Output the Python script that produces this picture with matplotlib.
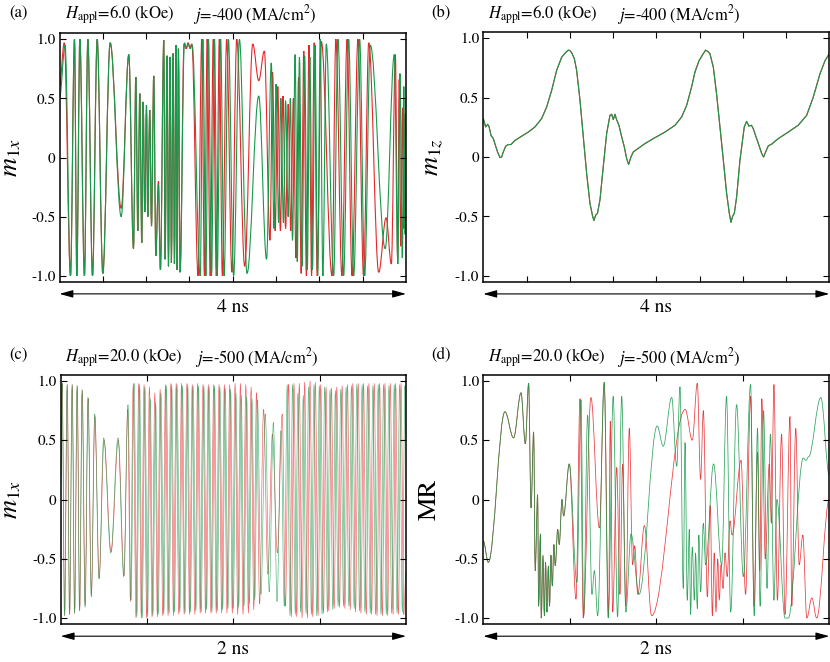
import numpy as np
import matplotlib
matplotlib.use('Agg')
import matplotlib.pyplot as plt
from matplotlib.path import Path
from matplotlib.patches import PathPatch

plt.rcParams['font.family'] = 'STIXGeneral'
plt.rcParams['mathtext.fontset'] = 'stix'

RED = '#e8262a'
GREEN = '#179a4b'

# y ticks shared by all panels
yticks = [-1.0, -0.5, 0.0, 0.5, 1.0]
ytick_labels = ['-1.0', '-0.5', '0', '0.5', '1.0']

# (a) m1x, H=6 kOe : extrema (t [ns], value)
a_red = [(0, 0.6), (0.055, 0.97), (0.127, -1.0), (0.173, 1.0), (0.2, -1.0), (0.235, 1.0),
         (0.288, -1.0), (0.327, 1.0), (0.381, -1.0), (0.435, 1.0), (0.5, -0.98), (0.585, 0.97),
         (0.712, -0.43), (0.8, 0.87), (0.854, -0.77), (0.881, 0.68), (0.904, -0.62), (0.927, 0.54),
         (0.95, -0.72), (0.965, 0.47), (0.985, -0.46), (1.004, 0.44), (1.019, -0.5), (1.042, 0.40),
         (1.062, -0.58), (1.088, 0.69), (1.112, -0.83), (1.142, -0.2), (1.165, -0.95), (1.204, 0.99),
         (1.219, -0.86), (1.242, 0.86), (1.258, -0.92), (1.277, 0.85), (1.292, -0.89), (1.312, 0.88),
         (1.327, -0.9), (1.346, 0.95), (1.358, -0.95), (1.373, 0.92), (1.392, -0.97), (1.438, 0.96),
         (1.462, 0.92), (1.485, 0.97), (1.505, 0.93), (1.528, 0.96), (1.6, -1.0), (1.642, 1.0),
         (1.673, -1.0), (1.705, 1.0), (1.74, -1.0), (1.775, 1.0), (1.81, -1.0), (1.845, 1.0),
         (1.88, -1.0), (1.93, 1.0), (1.99, -0.97), (2.046, 1.0), (2.138, -0.92), (2.231, 0.96),
         (2.3, 0.65), (2.365, 0.9), (2.43, -0.7), (2.46, 0.72), (2.49, -0.62), (2.52, 0.6),
         (2.55, -0.62), (2.58, 0.52), (2.61, -0.6), (2.64, 0.45), (2.67, -0.62), (2.70, 0.5),
         (2.73, -0.85), (2.76, 0.68), (2.79, -0.98), (2.82, 0.9), (2.85, -1.0), (2.88, 0.95),
         (2.91, -1.0), (2.94, 0.97), (2.975, -1.0), (3.023, 0.98), (3.146, -1.0), (3.19, 1.0),
         (3.26, -1.0), (3.32, 1.0), (3.377, -1.0), (3.446, 1.0), (3.51, -1.0), (3.57, 0.97),
         (3.685, -0.97), (3.77, -0.51), (3.831, -0.9), (3.877, 0.87), (3.904, -0.85), (3.922, 0.66),
         (3.94, -0.75), (3.96, 0.42), (3.975, -0.6), (3.99, 0.37), (4.0, -0.55)]
a_green = [(0, 0.5), (0.065, 0.95), (0.127, -1.0), (0.173, 1.0), (0.2, -1.0), (0.235, 1.0),
           (0.288, -1.0), (0.327, 1.0), (0.381, -1.0), (0.435, 1.0), (0.5, -0.98), (0.585, 0.97),
           (0.712, -0.5), (0.8, 0.87), (0.854, -0.77), (0.881, 0.68), (0.904, -0.62), (0.927, 0.54),
           (0.95, -0.72), (0.965, 0.47), (0.985, -0.46), (1.004, 0.44), (1.019, -0.5), (1.042, 0.40),
           (1.062, -0.58), (1.088, 0.69), (1.112, -0.83), (1.142, -0.23), (1.165, -0.95), (1.204, 0.99),
           (1.219, -0.86), (1.242, 0.86), (1.258, -0.92), (1.277, 0.85), (1.292, -0.89), (1.312, 0.88),
           (1.327, -0.9), (1.346, 0.95), (1.358, -0.95), (1.373, 0.92), (1.392, -0.97), (1.442, 0.97),
           (1.465, 0.93), (1.488, 0.96), (1.508, 0.92), (1.531, 0.95), (1.625, -1.0), (1.655, 1.0),
           (1.69, -1.0), (1.72, 1.0), (1.755, -1.0), (1.79, 1.0), (1.82, -1.0), (1.86, 1.0),
           (1.9, -1.0), (1.95, 1.0), (2.01, -1.0), (2.077, 1.0), (2.165, -0.98), (2.3, 0.52),
           (2.39, -0.86), (2.445, 0.8), (2.475, -0.6), (2.5, 0.62), (2.53, -0.55), (2.555, 0.5),
           (2.585, -0.55), (2.61, 0.48), (2.64, -0.5), (2.665, 0.5), (2.69, -0.7), (2.72, 0.87),
           (2.745, -0.88), (2.77, 0.85), (2.8, -0.92), (2.83, 0.86), (2.86, -0.95), (2.89, 0.85),
           (2.92, -0.95), (2.95, 0.95), (2.98, -1.0), (3.01, 1.0), (3.04, -1.0), (3.08, 0.96),
           (3.165, -1.0), (3.215, 1.0), (3.28, -1.0), (3.338, 1.0), (3.396, -1.0), (3.465, 1.0),
           (3.523, -1.0), (3.588, 0.95), (3.76, -0.77), (3.865, 0.87), (3.906, -0.9), (3.93, 0.71),
           (3.958, -0.85), (3.975, 0.6), (3.99, -0.65), (4.0, 0.5)]

# (b) m1z, H=6 kOe
b_t = [0, 0.027, 0.05, 0.065, 0.09, 0.116, 0.135, 0.166, 0.193, 0.212, 0.23, 0.258, 0.289,
       0.32, 0.366, 0.443, 0.52, 0.597, 0.674, 0.732, 0.79, 0.848, 0.906, 0.952, 0.983, 1.0,
       1.02, 1.052, 1.079, 1.118, 1.156, 1.195, 1.233, 1.264, 1.279, 1.299, 1.32, 1.349, 1.387,
       1.426, 1.464, 1.484, 1.503, 1.522, 1.541, 1.568, 1.6, 1.63, 1.657, 1.68, 1.707, 1.734,
       1.773, 1.869, 1.985, 2.1, 2.216, 2.293, 2.351, 2.408, 2.447, 2.493, 2.543, 2.57, 2.593,
       2.62, 2.659, 2.697, 2.736, 2.775, 2.813, 2.844, 2.863, 2.882, 2.902, 2.929, 2.967, 3.017,
       3.044, 3.071, 3.1, 3.12, 3.148, 3.18, 3.218, 3.24, 3.264, 3.295, 3.333, 3.41, 3.526,
       3.64, 3.738, 3.815, 3.892, 3.95, 4.0]
b_v = [0.323, 0.253, 0.275, 0.26, 0.18, 0.155, 0.11, 0.04, -0.005, 0.0, 0.04, 0.09, 0.105,
       0.105, 0.14, 0.175, 0.21, 0.253, 0.323, 0.42, 0.56, 0.73, 0.84, 0.88, 0.90, 0.896,
       0.88, 0.83, 0.73, 0.477, 0.17, -0.14, -0.39, -0.50, -0.535, -0.49, -0.474, -0.36, -0.08,
       0.197, 0.35, 0.36, 0.315, 0.36, 0.315, 0.267, 0.17, 0.085, -0.013, -0.063, 0.0, 0.043,
       0.063, 0.113, 0.163, 0.21, 0.267, 0.337, 0.435, 0.59, 0.715, 0.81, 0.87, 0.90, 0.89,
       0.87, 0.757, 0.53, 0.253, -0.027, -0.306, -0.474, -0.55, -0.50, -0.474, -0.334, -0.027, 0.253,
       0.30, 0.26, 0.267, 0.24, 0.18, 0.113, 0.03, 0.0, 0.043, 0.094, 0.108, 0.155, 0.21,
       0.267, 0.35, 0.505, 0.70, 0.81, 0.87]

# (c) m1x, H=20 kOe : extrema
c_red = [(0.0, 0.1), (0.009, 0.98), (0.023, -0.98), (0.038, 0.97), (0.052, -0.97), (0.067, 0.97),
         (0.081, -0.96), (0.096, 0.96), (0.11, -0.94), (0.125, 0.92), (0.142, -0.9), (0.159, 0.85),
         (0.178, -0.8), (0.198, 0.7), (0.223, -0.66), (0.251, 0.5), (0.292, -0.44), (0.334, 0.5),
         (0.367, -0.64), (0.388, 0.76), (0.404, -0.86), (0.42, 0.97),
         (0.436, -1.0), (0.452, 0.98), (0.467, -1.0), (0.483, 0.97), (0.498, -1.0), (0.514, 0.95),
         (0.529, -0.99), (0.545, 0.9), (0.56, -0.99), (0.576, 0.93), (0.591, -0.98), (0.607, 0.97),
         (0.622, -0.98), (0.638, 0.98), (0.653, -0.98), (0.669, 0.98), (0.684, -0.97), (0.7, 0.98),
         (0.715, -0.97), (0.731, 0.98), (0.746, -0.97), (0.762, 0.97), (0.777, -0.97), (0.793, 0.98),
         (0.808, -0.96), (0.824, 0.97), (0.839, -0.96), (0.855, 0.97), (0.87, -0.96), (0.886, 0.97),
         (0.901, -0.96), (0.917, 0.97), (0.932, -0.96), (0.948, 0.97), (0.963, -0.96), (0.979, 0.97),
         (0.994, -0.96), (1.01, 0.98), (1.025, -0.97), (1.041, 0.98), (1.056, -0.97), (1.072, 0.97),
         (1.087, -0.96), (1.103, 0.95), (1.118, -0.93), (1.134, 0.9),
         (1.152, -0.88), (1.175, 0.76), (1.2, -0.63), (1.226, 0.55), (1.255, -0.45), (1.283, 0.72),
         (1.302, -0.9), (1.32, 0.97),
         (1.336, -0.99), (1.351, 0.98), (1.367, -0.99), (1.382, 0.98), (1.398, -1.0), (1.413, 0.99),
         (1.429, -1.0), (1.444, 1.0), (1.46, -0.99), (1.475, 0.99), (1.491, -0.98), (1.506, 0.97),
         (1.522, -0.96), (1.537, 0.95), (1.553, -0.94), (1.568, 0.94), (1.584, -0.92), (1.599, 0.95),
         (1.615, -0.91), (1.63, 0.96), (1.646, -0.92), (1.661, 0.97), (1.677, -0.93), (1.692, 0.98),
         (1.708, -0.95), (1.723, 0.98), (1.739, -0.96), (1.754, 0.98), (1.77, -0.97), (1.785, 0.98),
         (1.801, -0.97), (1.816, 0.98), (1.832, -0.98), (1.847, 0.98), (1.863, -0.98), (1.878, 0.98),
         (1.894, -0.98), (1.909, 0.98), (1.925, -0.97), (1.94, 0.98), (1.956, -0.97), (1.971, 0.98),
         (1.987, -0.97), (2.0, -0.6)]
c_green = [(0.0, 0.2), (0.008, 0.98), (0.022, -0.98), (0.037, 0.97), (0.051, -0.97), (0.066, 0.97),
           (0.08, -0.96), (0.095, 0.96), (0.109, -0.94), (0.124, 0.93), (0.141, -0.91), (0.158, 0.86),
           (0.177, -0.82), (0.197, 0.72), (0.222, -0.67), (0.249, 0.52), (0.29, -0.45), (0.332, 0.52),
           (0.365, -0.65), (0.39, 0.8), (0.407, -0.85), (0.425, 0.98),
           (0.441, -0.99), (0.457, 0.97), (0.472, -1.0), (0.488, 0.95), (0.503, -0.99), (0.519, 0.85),
           (0.534, -0.98), (0.55, 0.82), (0.565, -0.97), (0.581, 0.9), (0.597, -0.97), (0.612, 0.96),
           (0.628, -0.96), (0.643, 0.97), (0.659, -0.95), (0.674, 0.97), (0.69, -0.95), (0.705, 0.96),
           (0.72, -0.96), (0.736, 0.97), (0.751, -0.95), (0.767, 0.96), (0.783, -0.94), (0.798, 0.96),
           (0.814, -0.95), (0.829, 0.96), (0.845, -0.93), (0.86, 0.95), (0.876, -0.95), (0.891, 0.96),
           (0.907, -0.94), (0.922, 0.95), (0.938, -0.93), (0.953, 0.94), (0.969, -0.92), (0.984, 0.93),
           (1.0, -0.92), (1.015, 0.9), (1.031, -0.91), (1.046, 0.88), (1.062, -0.9), (1.077, 0.87),
           (1.093, -0.88), (1.108, 0.85), (1.124, -0.85), (1.14, 0.84),
           (1.16, -0.8), (1.185, 0.72), (1.208, -0.78), (1.232, 0.65), (1.253, -0.86), (1.276, 0.58),
           (1.295, -0.9), (1.312, 0.97),
           (1.328, -0.98), (1.343, 0.97), (1.359, -0.97), (1.374, 0.9), (1.39, -0.95), (1.405, 0.88),
           (1.421, -0.96), (1.436, 0.95), (1.452, -0.97), (1.467, 0.97), (1.483, -0.98), (1.498, 0.96),
           (1.514, -0.97), (1.529, 0.95), (1.545, -0.95), (1.56, 0.93), (1.576, -0.93), (1.591, 0.92),
           (1.607, -0.9), (1.622, 0.93), (1.638, -0.9), (1.653, 0.95), (1.669, -0.9), (1.684, 0.96),
           (1.7, -0.92), (1.715, 0.97), (1.731, -0.94), (1.746, 0.97), (1.762, -0.95), (1.777, 0.96),
           (1.793, -0.96), (1.808, 0.96), (1.824, -0.97), (1.839, 0.97), (1.855, -0.97), (1.87, 0.97),
           (1.886, -0.97), (1.901, 0.96), (1.917, -0.96), (1.932, 0.97), (1.948, -0.96), (1.963, 0.97),
           (1.979, -0.95), (1.994, 0.96), (2.0, 0.5)]

# (d) MR, H=20 kOe : extrema
d_start = [(0.0, -0.35), (0.029, -0.53), (0.125, 0.74), (0.175, 0.52), (0.218, 0.9), (0.243, 0.47),
           (0.262, 0.98), (0.276, -0.07), (0.291, 0.57), (0.3, -0.6), (0.314, 0.04), (0.32, -0.9),
           (0.33, -0.29), (0.335, -1.0), (0.345, -0.47), (0.353, -0.98), (0.36, -0.53), (0.368, -0.95),
           (0.376, -0.56), (0.383, -0.9), (0.391, -0.47), (0.399, -0.73), (0.408, -0.38), (0.416, -0.56),
           (0.43, -0.25), (0.439, -0.38), (0.455, 0.0), (0.464, -0.14), (0.497, 0.3)]
d_red_rest = [(0.536, -0.84), (0.559, 0.85), (0.578, -1.0), (0.622, 0.86), (0.671, -0.24), (0.699, 0.98),
              (0.724, -0.98), (0.734, 0.66), (0.748, -0.95), (0.771, 0.27), (0.79, -0.8), (0.805, 0.3),
              (0.824, -0.9), (0.844, 0.6), (0.863, -0.55), (0.875, -0.39), (0.893, -0.8), (0.931, -0.22),
              (0.973, -0.98), (1.167, 0.76), (1.208, 0.5), (1.237, 0.98), (1.256, 0.17), (1.272, 0.75),
              (1.295, -0.82), (1.312, -0.05), (1.324, -0.98), (1.335, -0.45), (1.345, -0.95), (1.355, -0.5),
              (1.364, -0.85), (1.374, -0.55), (1.386, -0.75), (1.397, -0.45), (1.41, -0.65), (1.426, -0.18),
              (1.438, -0.3), (1.49, 0.33), (1.516, -0.8), (1.545, 0.87), (1.565, -0.9), (1.585, 0.4),
              (1.598, -0.6), (1.61, 0.85), (1.63, -0.5), (1.653, 0.3), (1.665, -0.2), (1.68, 0.97),
              (1.7, -0.85), (1.724, 0.55), (1.744, -0.97), (1.773, 0.7), (1.783, -0.9), (1.806, 0.6),
              (1.826, -0.55), (1.847, -0.3), (1.87, -1.0), (1.899, -0.83), (1.927, -1.0), (2.0, 0.0)]
d_green_rest = [(0.541, -0.7), (0.565, 0.84), (0.58, -0.98), (0.603, 0.71), (0.628, -0.8), (0.642, -0.6),
                (0.661, -0.98), (0.699, 0.99), (0.722, -1.0), (0.751, 0.87), (0.776, -0.99), (0.8, 0.87),
                (0.824, -0.95), (0.854, -0.29), (0.9, -0.8), (1.005, 0.62), (1.04, 0.45), (1.089, 0.86),
                (1.118, 0.28), (1.137, 0.95), (1.156, -0.75), (1.166, 0.48), (1.179, -0.85), (1.191, -0.25),
                (1.198, -0.97), (1.208, -0.4), (1.22, -0.85), (1.227, -0.45), (1.237, -0.92), (1.246, -0.3),
                (1.256, -0.78), (1.272, -0.2), (1.285, -0.55), (1.331, 0.3), (1.378, -0.55), (1.406, 0.87),
                (1.43, -0.95), (1.464, 0.8), (1.503, -0.65), (1.545, 0.97), (1.566, -0.98), (1.585, 0.6),
                (1.6, -0.9), (1.62, 0.75), (1.64, -0.75), (1.66, 0.55), (1.68, -0.85), (1.697, 0.0),
                (1.744, -1.0), (1.763, -1.0), (1.85, 0.35), (1.865, 0.33), (1.88, 0.36), (1.951, 0.86),
                (2.0, 0.2)]


def smooth_line(ax, pts, color, lw, alpha=1.0):
    # bezier through the extrema, flat tangent at each one
    verts = [pts[0]]
    codes = [Path.MOVETO]
    for (t0, v0), (t1, v1) in zip(pts[:-1], pts[1:]):
        d = (t1 - t0) * 0.36
        verts += [(t0 + d, v0), (t1 - d, v1), (t1, v1)]
        codes += [Path.CURVE4] * 3
    ax.add_patch(PathPatch(Path(verts, codes), fill=False, edgecolor=color, lw=lw, alpha=alpha))


def setup(ax, xmax, ylabel, lx, span):
    ax.set_xlim(0, xmax)
    ax.set_ylim(-1.05, 1.05)
    ax.set_xticks([x for x in [0.5, 1.0, 1.5, 2.0, 2.5, 3.0, 3.5] if x < xmax])
    ax.set_xticklabels([])
    ax.set_yticks(yticks)
    ax.set_yticklabels(ytick_labels, fontsize=11)
    ax.tick_params(direction='in', top=True, right=True, length=4, width=0.8, pad=3)
    for s in ax.spines.values():
        s.set_linewidth(1.1)
    ax.set_ylabel(ylabel, fontsize=19)
    ax.yaxis.set_label_coords(lx, 0.5)
    ax.annotate('', xy=(1, -0.049), xytext=(0, -0.049), xycoords='axes fraction',
                arrowprops=dict(arrowstyle='<|-|>,head_length=0.9,head_width=0.25', color='k',
                                lw=0.8, shrinkA=0, shrinkB=0, mutation_scale=9))
    ax.text(0.5, -0.103, span, transform=ax.transAxes, ha='center', va='center', fontsize=14)


fig = plt.figure(figsize=(8.3, 6.62), dpi=100)
W, H = 830.0, 662.0
ax_a = fig.add_axes([59.5 / W, 1 - 281.7 / H, 346.5 / W, 248.4 / H])
ax_b = fig.add_axes([483.3 / W, 1 - 281.7 / H, 346 / W, 249.4 / H])
ax_c = fig.add_axes([60.7 / W, 1 - 624 / H, 345.3 / W, 249 / H])
ax_d = fig.add_axes([483.3 / W, 1 - 624 / H, 346 / W, 249 / H])

smooth_line(ax_a, a_red, RED, 0.8)
smooth_line(ax_a, a_green, GREEN, 0.8)
setup(ax_a, 4, r'$m_{1x}$', -0.104, '4 ns')

ax_b.plot(b_t, b_v, color=RED, lw=0.8)
ax_b.plot(b_t, b_v, color=GREEN, lw=0.8)
setup(ax_b, 4, r'$m_{1z}$', -0.11, '4 ns')

smooth_line(ax_c, c_red, RED, 0.45, 0.75)
smooth_line(ax_c, c_green, GREEN, 0.45, 0.75)
setup(ax_c, 2, r'$m_{1x}$', -0.108, '2 ns')

smooth_line(ax_d, d_start + d_red_rest, RED, 0.55, 0.9)
smooth_line(ax_d, d_start + d_green_rest, GREEN, 0.55, 0.9)
setup(ax_d, 2, 'MR', -0.12, '2 ns')

# panel letters and parameter headers (pixel positions)
letters = [('(a)', 18, 13), ('(b)', 441, 13), ('(c)', 18, 355), ('(d)', 441, 355)]
for s, x, y in letters:
    fig.text(x / W, 1 - y / H, s, ha='center', va='center', fontsize=12)

headers = [(65, 193, 15, '6.0', '-400'), (488, 617, 15, '6.0', '-400'),
           (65, 195, 358, '20.0', '-500'), (488, 617, 358, '20.0', '-500')]
for xh, xj, y, hv, jv in headers:
    fig.text(xh / W, 1 - y / H, r'$H_{\rm appl}$=' + hv + ' (kOe)', ha='left', va='center', fontsize=12)
    fig.text(xj / W, 1 - y / H, r'$j$=' + jv + r' (MA/cm$^2$)', ha='left', va='center', fontsize=12)

fig.savefig('out.png', dpi=100)
